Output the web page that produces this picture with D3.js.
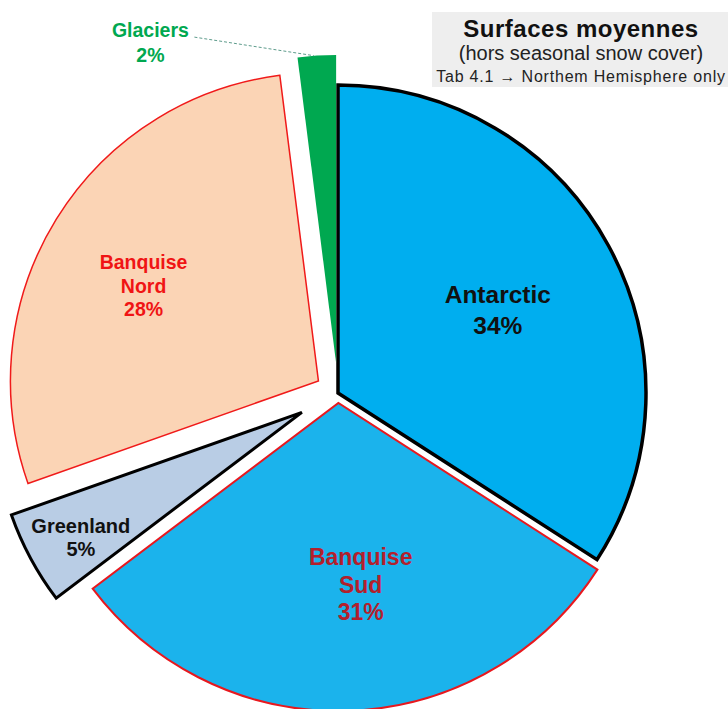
<!DOCTYPE html>
<html>
<head>
<meta charset="utf-8">
<script src="https://cdn.jsdelivr.net/npm/d3@7"></script>
<style>
  html, body { margin: 0; padding: 0; background: #ffffff; }
  svg { display: block; }
  text { font-family: "Liberation Sans", Arial, sans-serif; }
</style>
</head>
<body>
<svg id="chart" width="728" height="709"></svg>
<script>
// ---- data ----
const categories = ["Antarctic", "Banquise Sud", "Greenland", "Banquise Nord", "Glaciers"];
const labelLines = [["Antarctic"], ["Banquise", "Sud"], ["Greenland"], ["Banquise", "Nord"], ["Glaciers"]];
const values = [34.1, 30.6, 4.9, 28.4, 2.0];
const titleLines = ["Surfaces moyennes", "(hors seasonal snow cover)", "Tab 4.1 \u2192 Northem Hemisphere only"];

// ---- styles ----
const fills = ["#00AEEF", "#1BB3EC", "#B9CDE5", "#FBD4B5", "#00A850"];
const strokes = ["#000000", "#E8181E", "#000000", "#F01A1A", "none"];
const strokeW = [3.5, 2, 3, 1.5, 0];
const explode = [0, 10, 41, 23, 30];
const labelColors = ["#111111", "#B3202C", "#111111", "#F01414", "#00A850"];
const labelSize = [24.5, 23, 20, 19.5, 19.5];
const labelLH = [31, 27.5, 23, 23.5, 25];
const labelR = [180, 183, 254, 199, 397];
const labelAng = [62.6, 173, 240.5, 298.5, 331.8];

const svg = d3.select("#chart");
const cx = 338, cy = 393, R = 308;

const pie = d3.pie().sort(null).value(d => d).startAngle(0).endAngle(2 * Math.PI);
const arcs = pie(values);
const arc = d3.arc().innerRadius(0).outerRadius(R);
const fmt = v => Math.round(v) + "%";

const g = svg.append("g").attr("transform", `translate(${cx},${cy})`);

const offs = arcs.map((a, i) => {
  const m = (a.startAngle + a.endAngle) / 2;
  return [Math.sin(m) * explode[i], -Math.cos(m) * explode[i]];
});

g.selectAll("path.slice")
  .data(arcs)
  .join("path")
  .attr("class", "slice")
  .attr("transform", (d, i) => `translate(${offs[i][0]},${offs[i][1]})`)
  .attr("d", arc)
  .attr("fill", (d, i) => fills[i])
  .attr("stroke", (d, i) => strokes[i])
  .attr("stroke-width", (d, i) => strokeW[i])
  .attr("stroke-linejoin", "miter");

// leader line for Glaciers
const gi = 4;
const gm = (arcs[gi].startAngle + arcs[gi].endAngle) / 2;
const gEnd = [offs[gi][0] + Math.sin(gm) * R, offs[gi][1] - Math.cos(gm) * R];
const gLab = [Math.sin(labelAng[gi] * Math.PI / 180) * labelR[gi], -Math.cos(labelAng[gi] * Math.PI / 180) * labelR[gi]];
g.append("line")
  .attr("x1", gLab[0] + 44).attr("y1", gLab[1] - 6)
  .attr("x2", gEnd[0] - 3).attr("y2", gEnd[1])
  .attr("stroke", "#5E9C8C")
  .attr("stroke-width", 1)
  .attr("stroke-dasharray", "3,2");

// labels
arcs.forEach((a, i) => {
  const ang = labelAng[i] * Math.PI / 180;
  const ox = (i === gi) ? 0 : offs[i][0];
  const oy = (i === gi) ? 0 : offs[i][1];
  const px = ox + Math.sin(ang) * labelR[i];
  const py = oy - Math.cos(ang) * labelR[i];
  const lines = labelLines[i].concat([fmt(values[i])]);
  const n = lines.length;
  const first = py - (n - 1) * labelLH[i] / 2 + 0.35 * labelSize[i];
  const t = g.append("text")
    .attr("text-anchor", "middle")
    .attr("font-weight", "bold")
    .attr("font-size", labelSize[i])
    .attr("fill", labelColors[i]);
  lines.forEach((l, k) => {
    t.append("tspan").attr("x", px).attr("y", first + k * labelLH[i]).text(l);
  });
});

// title box
svg.append("rect")
  .attr("x", 432).attr("y", 12).attr("width", 296).attr("height", 75)
  .attr("fill", "#EEEEEE");
const tx = 581;
svg.append("text").attr("x", tx).attr("y", 37).attr("text-anchor", "middle")
  .attr("font-weight", "bold").attr("font-size", 24).attr("letter-spacing", 0.5)
  .attr("fill", "#111").text(titleLines[0]);
svg.append("text").attr("x", tx).attr("y", 60).attr("text-anchor", "middle")
  .attr("font-size", 20).attr("fill", "#222").text(titleLines[1]);
svg.append("text").attr("x", tx).attr("y", 82).attr("text-anchor", "middle")
  .attr("font-size", 16).attr("letter-spacing", 0.8).attr("fill", "#222").text(titleLines[2]);
</script>
</body>
</html>
